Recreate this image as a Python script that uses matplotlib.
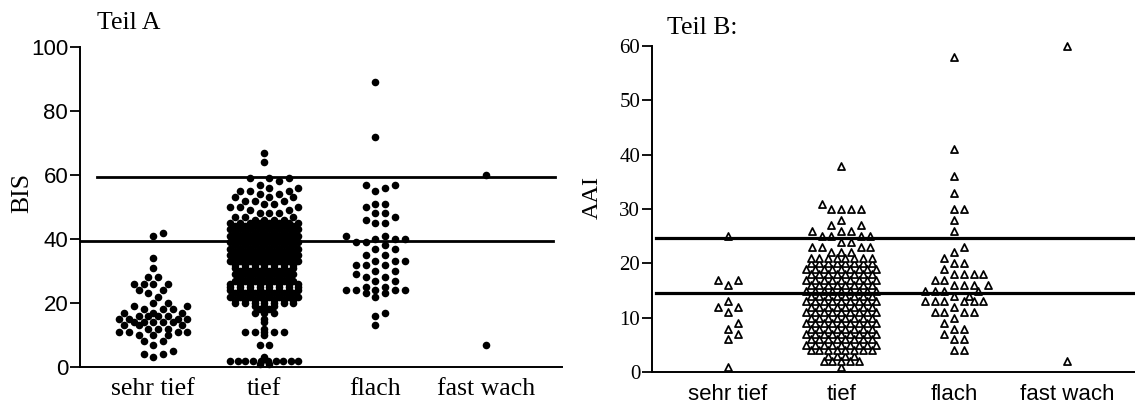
import numpy as np
import matplotlib
matplotlib.use("Agg")
import matplotlib.pyplot as plt

SERIF = "Liberation Serif"
SANS = "Liberation Sans"

categories = ["sehr tief", "tief", "flach", "fast wach"]

# ---------------- Teil A : BIS ----------------
bis_sehr_tief = [3, 4, 4, 5, 7, 8, 8, 10, 10, 10, 11, 11, 11, 11, 12, 12, 12,
                 13, 13, 13, 14, 14, 14, 14, 14, 15, 15, 15, 15, 16, 16, 16,
                 16, 17, 17, 17, 18, 18, 18, 19, 19, 20, 20, 22, 23, 24,
                 24, 26, 26, 26, 26, 28, 28, 31, 34, 41, 42]
# "tief": dense part drawn as rows (value level, number of points)
bis_tief_levels = [1, 2, 3, 7, 10, 11, 12, 14, 15, 17, 18, 19, 20,
                   21, 22, 23, 24, 25, 26, 27, 28, 29, 30, 31, 32, 33, 34, 35,
                   36, 37, 38, 39, 40, 41, 42, 43, 44, 45]
bis_tief_counts = [2, 10, 1, 2, 1, 5, 1, 1, 1, 3, 2, 3, 7,
                   7, 8, 7, 8, 8, 8, 7, 6, 7, 6, 7, 7, 8, 7, 8,
                   7, 8, 7, 8, 7, 8, 7, 8, 7, 8]
# "tief": sparse upper part
bis_tief_upper = [46, 46, 46, 46, 47, 47, 47, 48, 48, 48, 49, 49, 50, 50, 50, 51, 51,
                  52, 52, 52, 53, 53, 53, 54, 54, 55, 55, 55, 56, 56, 57, 58,
                  59, 59, 59, 64, 67]
bis_flach = [13, 16, 17, 22, 23, 23, 24, 24, 24, 24, 24, 25, 25, 27, 27, 28, 28, 29,
             30, 30, 32, 32, 32, 33, 33, 33, 35, 35, 37, 37, 38, 39, 39, 40, 40, 40,
             41, 41, 45, 45, 46, 47, 48, 48, 50, 51, 51, 55, 56, 57, 57, 72, 89]
bis_fast_wach = [60, 7]
bis_lines = [59.5, 39.5]
bis_ticks = [0, 20, 40, 60, 80, 100]

# ---------------- Teil B : AAI ----------------
aai_sehr_tief = [1, 6, 7, 8, 9, 11, 12, 12, 13, 16, 17, 17, 25]
# "tief": dense part drawn as rows
aai_tief_levels = [1, 2, 3, 4, 5, 6, 7, 8, 9, 10, 11, 12, 13, 14, 15, 16, 17, 18,
                   19, 20, 21]
aai_tief_counts = [1, 5, 4, 8, 9, 8, 9, 8, 9, 8, 9, 8, 9, 8, 9, 8, 9, 8,
                   9, 8, 8]
# "tief": sparse upper part
aai_tief_upper = [22, 22, 22, 23, 23, 23, 23, 24, 24, 25, 25, 25, 25, 26, 26, 26,
                  27, 27, 28, 30, 30, 30, 30, 31, 38]
aai_flach = [4, 4, 6, 6, 7, 8, 8, 9, 10, 11, 11, 11, 11, 12, 13, 13, 13, 13, 13, 13,
             14, 14, 15, 15, 15, 15, 16, 16, 16, 16, 17, 17, 18, 18, 18, 18, 19, 20,
             20, 21, 22, 23, 26, 28, 30, 30, 33, 36, 41, 58]
aai_fast_wach = [60, 2]
aai_lines = [24.7, 14.5]
aai_ticks = [0, 10, 20, 30, 40, 50, 60]


def px_scale(ax):
    t = ax.transData
    sx = t.transform((1, 0))[0] - t.transform((0, 0))[0]
    sy = t.transform((0, 1))[1] - t.transform((0, 0))[1]
    return sx, sy


def swarm_offsets(values, d_px, sx, sy, cap_px, thr=0.9):
    values = np.asarray(values, float)
    step = d_px / 2.0
    cands = [0.0]
    k = 1
    while k * step <= cap_px:
        cands += [k * step, -k * step]
        k += 1
    placed = []
    offs = np.zeros(len(values))
    for i in np.argsort(values, kind="stable"):
        y = values[i] * sy
        near = [(px, py) for px, py in placed if abs(py - y) < d_px]
        best = None
        for c in cands:
            if all((c - px) ** 2 + (y - py) ** 2 >= (thr * d_px) ** 2 for px, py in near):
                best = c
                break
        if best is None:
            best = max(cands, key=lambda c: min((c - px) ** 2 + (y - py) ** 2 for px, py in near))
        placed.append((best, y))
        offs[i] = best / sx
    return offs


def rows(levels, counts, d_px, sx, max_span_px):
    xs, ys = [], []
    for v, n in zip(levels, counts):
        sp = d_px
        if n > 1 and (n - 1) * d_px > max_span_px:
            sp = max_span_px / (n - 1)
        for j in range(n):
            xs.append((j - (n - 1) / 2.0) * sp / sx)
            ys.append(v)
    return np.array(xs), np.array(ys)


fig = plt.figure(figsize=(11.35, 4.05), dpi=100)
W, H = 1135.0, 405.0
axA = fig.add_axes([80 / W, 38 / H, 482 / W, 320 / H])
axB = fig.add_axes([652 / W, 33 / H, 483 / W, 326 / H])

axA.set_xlim(-0.66, 3.68)
axA.set_ylim(0, 100)
axB.set_xlim(-0.673, 3.6)
axB.set_ylim(0, 60)

for ax in (axA, axB):
    ax.spines["top"].set_visible(False)
    ax.spines["right"].set_visible(False)
    ax.spines["left"].set_linewidth(1.4)
    ax.spines["bottom"].set_linewidth(1.4)
    ax.set_xticks(range(len(categories)))
    ax.tick_params(axis="x", length=0)
    ax.tick_params(axis="y", length=7, width=1.3, pad=1.5)

# ---- Panel A ----
sx, sy = px_scale(axA)
d = 9.7
dotkw = dict(s=30, c="black", linewidths=0, zorder=3, clip_on=False)
xo = swarm_offsets(bis_sehr_tief, d, sx, sy, 36, thr=0.8)
axA.scatter(0 + xo, bis_sehr_tief, **dotkw)
tx, ty = rows(bis_tief_levels, bis_tief_counts, d, sx, 7 * d)
axA.scatter(1 + tx, ty, **dotkw)
xo = swarm_offsets(bis_tief_upper, d, sx, sy, 36, thr=0.85)
axA.scatter(1 + xo, bis_tief_upper, **dotkw)
xo = swarm_offsets(bis_flach, d, sx, sy, 30, thr=0.85)
axA.scatter(2 + xo, bis_flach, **dotkw)
xo = swarm_offsets(bis_fast_wach, d, sx, sy, 40)
axA.scatter(3 + xo, bis_fast_wach, **dotkw)
axA.plot([-0.51, 3.62], [bis_lines[0]] * 2, color="black", lw=2.0, zorder=4, clip_on=False)
axA.plot([-0.66, 3.60], [bis_lines[1]] * 2, color="black", lw=2.0, zorder=4, clip_on=False)

axA.set_yticks(bis_ticks)
axA.set_yticklabels([str(t) for t in bis_ticks], family=SANS, fontsize=16)
axA.set_xticklabels(categories, family=SERIF, fontsize=18.5)
axA.tick_params(axis="x", pad=8)
axA.set_ylabel("BIS", family=SERIF, fontsize=18.5)
axA.yaxis.set_label_coords(-0.0975, 0.544)
fig.text(97 / W, 1 - 29 / H, "Teil A", family=SERIF, fontsize=18.5, va="baseline", ha="left")

# ---- Panel B ----
sx, sy = px_scale(axB)
d = 8.7
trikw = dict(marker="^", s=26, facecolors="white", edgecolors="black", linewidths=1.25,
             zorder=3, clip_on=False)
xo = swarm_offsets(aai_sehr_tief, 9.7, sx, sy, 40)
axB.scatter(0 + xo, aai_sehr_tief, **trikw)
tx, ty = rows(aai_tief_levels, aai_tief_counts, d, sx, 8 * d)
axB.scatter(1 + tx, ty, **trikw)
xo = swarm_offsets(aai_tief_upper, 9.7, sx, sy, 36)
axB.scatter(1 + xo, aai_tief_upper, **trikw)
xo = swarm_offsets(aai_flach, 9.7, sx, sy, 36)
axB.scatter(2 + xo, aai_flach, **trikw)
xo = swarm_offsets(aai_fast_wach, 9.7, sx, sy, 40)
axB.scatter(3 + xo, aai_fast_wach, **trikw)
for yv in aai_lines:
    axB.plot([-0.64, 3.6], [yv, yv], color="black", lw=2.3, zorder=4, clip_on=False)

axB.set_yticks(aai_ticks)
axB.set_yticklabels([str(t) for t in aai_ticks], family=SERIF, fontsize=15)
axB.set_xticklabels(categories, family=SANS, fontsize=16)
axB.tick_params(axis="x", pad=9)
axB.set_ylabel("AAI", family=SERIF, fontsize=17.5)
axB.yaxis.set_label_coords(-0.101, 0.534)
fig.text(667 / W, 1 - 34 / H, "Teil B:", family=SERIF, fontsize=18.5, va="baseline", ha="left")

fig.savefig("out.png", dpi=100)
